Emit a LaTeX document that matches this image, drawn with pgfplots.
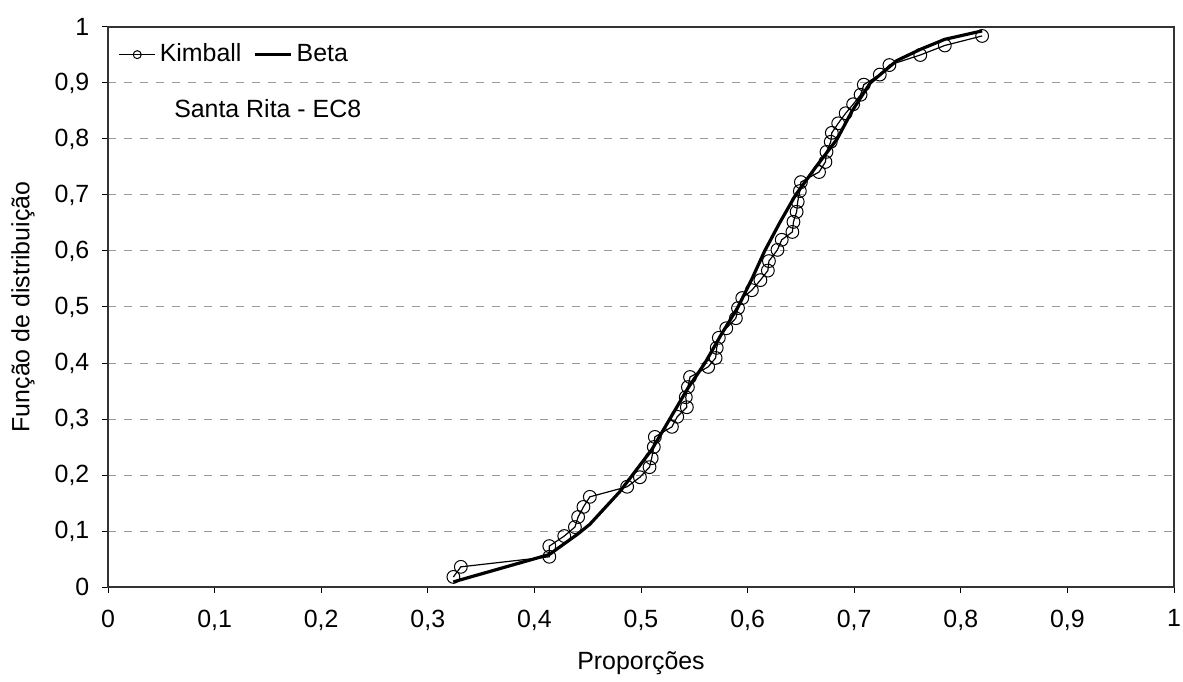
\documentclass[border=0pt]{standalone}
\usepackage{fontspec}
\setmainfont{Liberation Sans}
\usepackage{pgfplots}
\pgfplotsset{compat=1.18}
\begin{document}
\fontsize{12.5}{15}\selectfont
\begin{tikzpicture}
\begin{axis}[
  name=main,
  scale only axis,
  width=533bp, height=280bp,
  xmin=0, xmax=1, ymin=0, ymax=1,
  xtick={0,0.1,...,1}, ytick={0,0.1,...,1},
  xtick pos=bottom, ytick pos=left,
  /pgf/number format/assume math mode=true,
  /pgf/number format/use comma,
  /pgf/number format/fixed,
  /pgf/number format/precision=1,
  tick style={black, line width=0.5pt},
  tick align=outside,
  major tick length=3bp,
  ymajorgrids,
  grid style={gray!80, line width=0.5pt, dash pattern=on 4bp off 4bp},
  axis line style={black!80, line width=0.6pt},
  ticklabel style={font=\fontsize{12.5}{15}\selectfont},
  xticklabel style={yshift=-4bp},
  yticklabel style={xshift=-2bp},
  label style={font=\fontsize{12.5}{15}\selectfont},
  xlabel={Proporções},
  ylabel={Função de distribuição},
  xlabel style={yshift=-2bp},
  ylabel style={yshift=1.5bp},
  legend style={at={(0.004,0.985)}, anchor=north west, draw=none, fill=none,
    font=\fontsize{12.5}{15}\selectfont, legend columns=2,
    /tikz/every even column/.append style={column sep=4bp}},
  legend cell align=left,
  legend image code/.code={
    \draw[#1, mark repeat=2, mark phase=2] plot coordinates {(0bp,0bp) (9bp,0bp) (18bp,0bp)};
  },
]
\addplot[black, line width=0.6pt, mark=o, mark size=3.2bp, mark options={fill=white, line width=0.5pt},
  forget plot] table {
x y
0.324 0.018
0.331 0.036
0.414 0.054
0.414 0.073
0.428 0.091
0.438 0.107
0.441 0.125
0.446 0.143
0.452 0.161
0.487 0.179
0.499 0.196
0.508 0.214
0.510 0.230
0.512 0.250
0.513 0.268
0.529 0.286
0.534 0.304
0.543 0.321
0.542 0.339
0.544 0.357
0.546 0.375
0.563 0.393
0.570 0.409
0.571 0.427
0.573 0.445
0.580 0.462
0.589 0.480
0.591 0.498
0.595 0.516
0.604 0.530
0.612 0.548
0.619 0.565
0.620 0.582
0.628 0.602
0.632 0.620
0.642 0.634
0.643 0.652
0.646 0.670
0.647 0.688
0.649 0.707
0.650 0.723
0.667 0.741
0.673 0.759
0.674 0.777
0.678 0.795
0.679 0.811
0.685 0.828
0.692 0.846
0.699 0.862
0.706 0.879
0.709 0.897
0.724 0.915
0.733 0.932
0.762 0.950
0.785 0.967
0.820 0.984
};
\addplot[black, line width=1.6bp, forget plot] table {
x y
0.324 0.009
0.331 0.013
0.414 0.058
0.441 0.095
0.452 0.112
0.480 0.170
0.492 0.200
0.510 0.245
0.527 0.300
0.544 0.355
0.560 0.400
0.575 0.450
0.591 0.500
0.604 0.550
0.616 0.600
0.630 0.650
0.645 0.700
0.664 0.750
0.684 0.800
0.698 0.850
0.715 0.900
0.740 0.940
0.762 0.960
0.785 0.978
0.820 0.993
};
\addlegendimage{black, line width=0.6pt, mark=o, mark size=2bp, mark options={fill=white, line width=0.5pt}}
\addlegendentry{Kimball}
\addlegendimage{black, line width=1.6bp, mark=none}
\addlegendentry{Beta}
\node[anchor=west, font=\fontsize{12.5}{15}\selectfont] at (axis cs:0.054,0.855) {Santa Rita - EC8};
\end{axis}
\pgfresetboundingbox
\path[use as bounding box] ([xshift=-54bp,yshift=-47.5bp]main.south west) rectangle ([xshift=4.5bp,yshift=13.5bp]main.north east);
\end{tikzpicture}
\end{document}
